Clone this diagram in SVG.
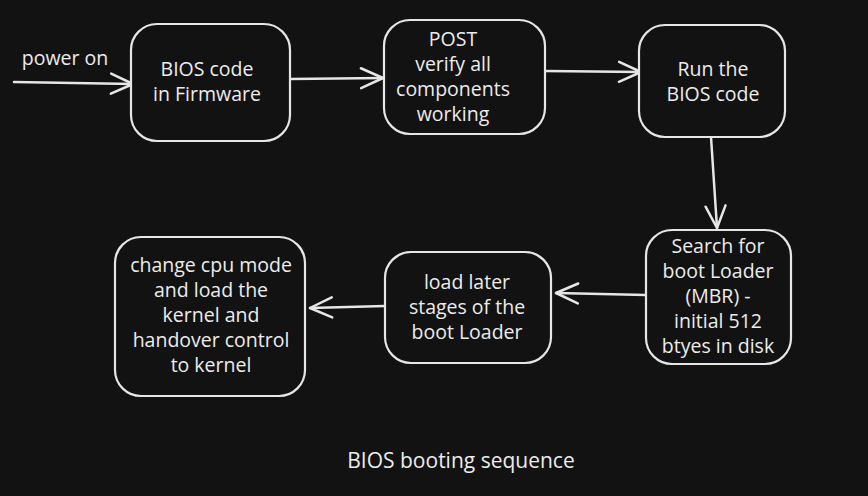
<svg xmlns="http://www.w3.org/2000/svg" width="868" height="496" viewBox="0 0 868 496">
<defs>
<style>
.box{fill:#121212;stroke:#e6e6e6;stroke-width:2.2}
.t{fill:#ececec;font-family:"Open Sans","Liberation Sans",sans-serif;font-size:19.5px;text-anchor:middle}
.c{fill:none;stroke:#e6e6e6;stroke-width:2.5;stroke-linecap:round;stroke-linejoin:round}
</style>
<marker id="ah" viewBox="-30 -15 32 30" refX="0" refY="0" markerWidth="32" markerHeight="30" markerUnits="userSpaceOnUse" orient="auto" overflow="visible">
<path d="M-22,-10 L0,0 L-22,10" fill="none" stroke="#e6e6e6" stroke-width="2.5" stroke-linecap="round" stroke-linejoin="round"/>
</marker>
</defs>
<rect width="868" height="496" fill="#121212"/>
<g id="connectors">
<path class="c" d="M14,82 L133,84" marker-end="url(#ah)" stroke-width="3.5"/>
<path class="c" d="M290,79 L383,78" marker-end="url(#ah)"/>
<path class="c" d="M545,71 L641,72" marker-end="url(#ah)"/>
<path class="c" d="M711,137 L717,228" marker-end="url(#ah)"/>
<path class="c" d="M646,295 L556,293" marker-end="url(#ah)" stroke-width="3.2"/>
<path class="c" d="M385,306 L310,308" marker-end="url(#ah)" stroke-width="3.2"/>
</g>
<text class="t" x="65" y="65">power on</text>
<g id="n1">
<rect class="box" x="131" y="24" width="159" height="117" rx="26"/>
<text class="t" x="207" y="76">BIOS code</text>
<text class="t" x="207" y="101">in Firmware</text>
</g>
<g id="n2">
<rect class="box" x="384" y="20" width="161" height="114" rx="26"/>
<text class="t" x="453" y="46">POST</text>
<text class="t" x="453" y="71">verify all</text>
<text class="t" x="453" y="96">components</text>
<text class="t" x="453" y="121">working</text>
</g>
<g id="n3">
<rect class="box" x="639" y="25" width="146" height="112" rx="26"/>
<text class="t" x="713" y="76">Run the</text>
<text class="t" x="713" y="101">BIOS code</text>
</g>
<g id="n4">
<rect class="box" x="646" y="230" width="145" height="134" rx="26"/>
<text class="t" x="718" y="253">Search for</text>
<text class="t" x="718" y="278">boot Loader</text>
<text class="t" x="718" y="303">(MBR) -</text>
<text class="t" x="718" y="328">initial 512</text>
<text class="t" x="718" y="353">btyes in disk</text>
</g>
<g id="n5">
<rect class="box" x="385" y="252" width="166" height="111" rx="26"/>
<text class="t" x="467" y="289">load later</text>
<text class="t" x="467" y="314">stages of the</text>
<text class="t" x="467" y="339">boot Loader</text>
</g>
<g id="n6">
<rect class="box" x="115" y="237" width="190" height="159" rx="26"/>
<text class="t" x="211" y="272">change cpu mode</text>
<text class="t" x="211" y="297">and load the</text>
<text class="t" x="211" y="322">kernel and</text>
<text class="t" x="211" y="347">handover control</text>
<text class="t" x="211" y="372">to kernel</text>
</g>
<text class="t" x="461" y="468" style="font-size:21px">BIOS booting sequence</text>
</svg>
